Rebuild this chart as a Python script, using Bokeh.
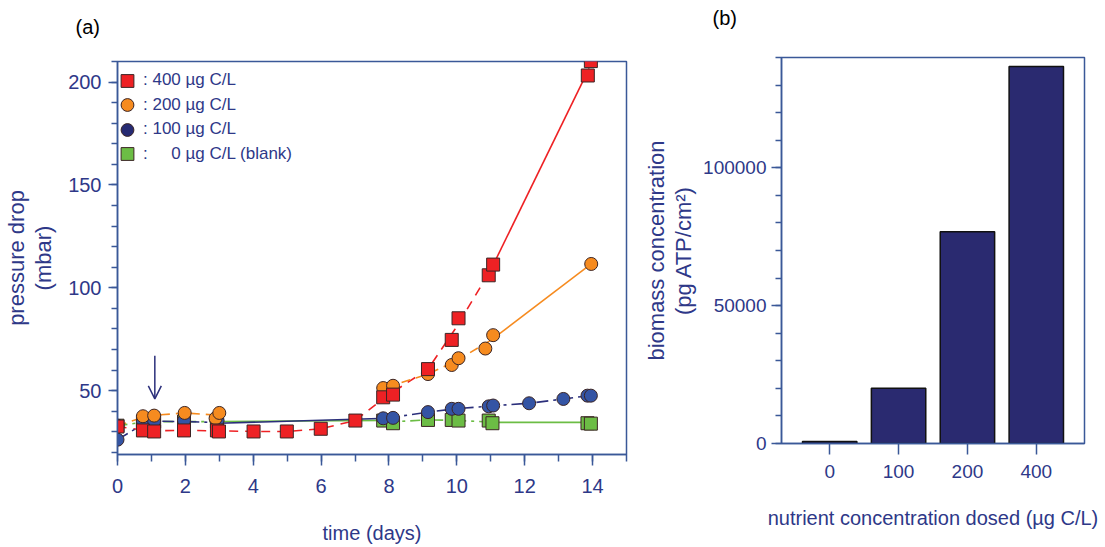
from bokeh.plotting import figure
from bokeh.layouts import row
from bokeh.models import (Range1d, FactorRange, SingleIntervalTicker, BasicTickFormatter,
                          Legend, LegendItem, Arrow, OpenHead)
from bokeh.embed import file_html
from bokeh.resources import INLINE

# ---------------- data: panel (a) pressure drop (mbar) vs time (days) ----------------
red_day = [0, 0.75, 1.08, 1.96, 2.93, 2.99, 4.01, 4.99, 5.99, 7.01, 7.83, 8.12, 9.15, 9.85, 10.05, 10.94, 11.07, 13.86, 13.95]
red_dp = [32.6, 30.7, 30.2, 30.7, 30.7, 30.2, 30.2, 30.2, 31.5, 35.5, 46.8, 48.1, 60.5, 74.7, 85.2, 106.1, 111.3, 203.2, 210.2]

orange_day = [0, 0.75, 1.08, 1.98, 2.89, 3.0, 7.83, 8.12, 9.15, 9.85, 10.05, 10.84, 11.07, 13.96]
orange_dp = [33.0, 37.6, 37.9, 39.2, 36.6, 39.2, 51.3, 52.4, 58.1, 62.5, 65.8, 70.5, 77.0, 111.6]

blue_day = [0, 0.75, 1.08, 1.96, 2.95, 7.83, 8.12, 9.15, 9.85, 10.05, 10.94, 11.07, 12.13, 13.14, 13.85, 13.95]
blue_dp = [26.2, 35.2, 35.2, 35.5, 35.5, 36.6, 36.8, 39.6, 41.2, 41.2, 42.4, 42.8, 43.9, 46.0, 47.6, 47.6]

green_day = [0, 0.75, 1.08, 1.96, 2.93, 7.83, 8.12, 9.15, 9.85, 10.05, 10.94, 11.05, 13.85, 13.95]
green_dp = [33.0, 35.0, 35.0, 35.0, 35.0, 35.5, 34.2, 35.8, 35.8, 35.5, 35.5, 34.2, 34.2, 34.0]

# connecting lines
red_dash_day = [0, 0.9, 2, 3, 4, 5, 6, 7, 7.95, 9.15, 9.95, 11.0]
red_dash_dp = [32.6, 30.5, 30.7, 30.5, 30.2, 30.2, 31.5, 35.5, 47.5, 60.5, 80.0, 108.7]
red_solid_day = [11.0, 13.9]
red_solid_dp = [108.7, 206.7]

orange_dash1_day = [0, 0.9, 2, 3]
orange_dash1_dp = [33.0, 37.8, 39.2, 38.0]
orange_dash2_day = [7.95, 9.15, 9.95, 11.0]
orange_dash2_dp = [51.8, 58.1, 64.2, 74.5]
orange_solid_day = [11.0, 13.96]
orange_solid_dp = [74.5, 111.6]

blue_dash1_day = [0, 0.9, 2, 3]
blue_dash1_dp = [26.2, 35.2, 35.0, 34.5]
blue_solid_day = [3, 7.95]
blue_solid_dp = [34.2, 36.6]
blue_dash2_day = [7.95, 9.15, 9.95, 11.0, 12.13, 13.14, 13.9]
blue_dash2_dp = [36.7, 39.6, 41.2, 42.6, 43.9, 46.0, 47.6]

green_dash1_day = [0, 0.9, 2, 3]
green_dash1_dp = [33.0, 35.0, 35.0, 35.0]
green_solid1_day = [3, 7.95]
green_solid1_dp = [35.0, 35.6]
green_dash2_day = [7.95, 9.15, 9.95, 11.0]
green_dash2_dp = [34.8, 35.8, 35.6, 34.8]
green_solid2_day = [11.0, 13.9]
green_solid2_dp = [34.6, 34.6]

legend_labels = [": 400 \u00b5g C/L", ": 200 \u00b5g C/L", ": 100 \u00b5g C/L",
                 ":\u2007\u2007 0 \u00b5g C/L (blank)"]

# nutrient dosing start marker
arrow_day = 1.1
arrow_from = 67.0
arrow_to = 46.0

# ---------------- data: panel (b) biomass ----------------
conc_labels = ["0", "100", "200", "400"]
biomass = [700, 20000, 76800, 136700]

# ---------------- styles ----------------
AX = "#3a5898"
TXT = "#2e3888"
FONT = "Liberation Sans"
RED = "#ee2124"
ORANGE = "#f68b1f"
BLUE = "#3454a4"
NAVY = "#2b2f7b"
GREEN = "#6cbd45"
EDGE = "#3b2525"
NAN = float("nan")

# the row aligns the border sizes of both plots; shared borders, shifted with margins
TOP = 80
BOTTOM = 93
P1_FRAME_H = 394
P2_FRAME_H = 387


def style_axis(ax, tick_out=10, minor_out=6, tick_size="20px"):
    ax.axis_line_color = AX
    ax.axis_line_width = 1.5
    ax.major_tick_line_color = AX
    ax.major_tick_line_width = 1.5
    ax.minor_tick_line_color = AX
    ax.minor_tick_line_width = 1.5
    ax.major_tick_in = 0
    ax.major_tick_out = tick_out
    ax.minor_tick_in = 0
    ax.minor_tick_out = minor_out
    ax.major_label_text_font = FONT
    ax.major_label_text_font_size = tick_size
    ax.major_label_text_color = TXT
    ax.axis_label_text_font = FONT
    ax.axis_label_text_font_style = "normal"
    ax.axis_label_text_color = TXT
    ax.axis_label_text_line_height = 1.1


# ---------------- panel (a) ----------------
p1 = figure(width=640, height=TOP + P1_FRAME_H + BOTTOM, margin=(60 - TOP, 0, 0, 0),
            x_range=Range1d(0, 15), y_range=Range1d(19, 210),
            min_border_left=114, min_border_right=14, min_border_top=TOP, min_border_bottom=BOTTOM,
            output_backend="svg", toolbar_location=None, title="(a)")
p1.title.text_font = FONT
p1.title.text_font_size = "20px"
p1.title.text_font_style = "normal"
p1.title.text_color = "black"
p1.title.align = "left"
p1.title.offset = -42
p1.title.standoff = 47
p1.xgrid.visible = False
p1.ygrid.visible = False
p1.outline_line_color = AX
p1.outline_line_width = 1.5

p1.xaxis.ticker = SingleIntervalTicker(interval=2, num_minor_ticks=2)
p1.yaxis.ticker = SingleIntervalTicker(interval=50, num_minor_ticks=5)
p1.xaxis.axis_label = "time (days)"
p1.yaxis.axis_label = "pressure drop\n(mbar)"
style_axis(p1.xaxis[0], 11, 7)
style_axis(p1.yaxis[0], 9, 6)
p1.xaxis.axis_label_text_font_size = "20px"
p1.yaxis.axis_label_text_font_size = "22px"
p1.xaxis.major_label_standoff = 13
p1.xaxis.axis_label_standoff = 26
p1.yaxis.major_label_standoff = 7
p1.yaxis.axis_label_standoff = 9

# lines
p1.line(red_dash_day, red_dash_dp, line_color=RED, line_width=1.6, line_dash="9 7")
p1.line(red_solid_day, red_solid_dp, line_color=RED, line_width=1.6)
p1.line(orange_dash1_day, orange_dash1_dp, line_color=ORANGE, line_width=1.6, line_dash="9 6")
p1.line(orange_dash2_day, orange_dash2_dp, line_color=ORANGE, line_width=1.6, line_dash="9 6")
p1.line(orange_solid_day, orange_solid_dp, line_color=ORANGE, line_width=1.6)
p1.line(green_dash1_day, green_dash1_dp, line_color=GREEN, line_width=1.6, line_dash="10 5 3 5")
p1.line(green_solid1_day, green_solid1_dp, line_color=GREEN, line_width=1.6)
p1.line(green_dash2_day, green_dash2_dp, line_color=GREEN, line_width=1.6, line_dash="10 5 3 5")
p1.line(green_solid2_day, green_solid2_dp, line_color=GREEN, line_width=1.6)
p1.line(blue_dash1_day, blue_dash1_dp, line_color=NAVY, line_width=1.6, line_dash="12 5 3 5")
p1.line(blue_solid_day, blue_solid_dp, line_color=NAVY, line_width=1.6)
p1.line(blue_dash2_day, blue_dash2_dp, line_color=NAVY, line_width=1.6, line_dash="12 5 3 5")

# markers
r_green = p1.scatter(green_day, green_dp, marker="square", size=13, fill_color=GREEN,
                     line_color=EDGE, line_width=1)
r_blue = p1.scatter(blue_day, blue_dp, marker="circle", size=13, fill_color=BLUE,
                    line_color=EDGE, line_width=1)
r_orange = p1.scatter(orange_day, orange_dp, marker="circle", size=13, fill_color=ORANGE,
                      line_color=EDGE, line_width=1)
r_red = p1.scatter(red_day, red_dp, marker="square", size=13, fill_color=RED,
                   line_color=EDGE, line_width=1)

# legend swatches (no visible data point; darker navy for 100 ug in the legend)
lg_red = p1.scatter([NAN], [NAN], marker="square", fill_color=RED, line_color=EDGE)
lg_orange = p1.scatter([NAN], [NAN], marker="circle", fill_color=ORANGE, line_color=EDGE)
lg_blue = p1.scatter([NAN], [NAN], marker="circle", fill_color="#262a72", line_color=EDGE)
lg_green = p1.scatter([NAN], [NAN], marker="square", fill_color=GREEN, line_color=EDGE)

for k, (lab, rend) in enumerate(zip(legend_labels, [lg_red, lg_orange, lg_blue, lg_green])):
    lg = Legend(items=[LegendItem(label=lab, renderers=[rend])],
                location=(-6, P1_FRAME_H - 36.5 - 24.5 * k), glyph_width=32, glyph_height=33,
                spacing=0, padding=0, margin=0, label_standoff=0, label_height=20,
                border_line_alpha=0, background_fill_alpha=0,
                label_text_font=FONT, label_text_font_size="17px", label_text_color=TXT)
    p1.add_layout(lg)

p1.add_layout(Arrow(end=OpenHead(size=13, line_color=NAVY, line_width=1.5),
                    x_start=arrow_day, y_start=arrow_from, x_end=arrow_day, y_end=arrow_to,
                    line_color=NAVY, line_width=1.5))

# ---------------- panel (b) ----------------
p2 = figure(width=465, height=TOP + P2_FRAME_H + BOTTOM, margin=(56 - TOP, 0, 0, 0),
            x_range=FactorRange(factors=conc_labels, range_padding=0.1),
            y_range=Range1d(0, 140000),
            min_border_left=137, min_border_right=21, min_border_top=TOP, min_border_bottom=BOTTOM,
            output_backend="svg", toolbar_location=None, title="(b)")
p2.title.text_font = FONT
p2.title.text_font_size = "20px"
p2.title.text_font_style = "normal"
p2.title.text_color = "black"
p2.title.align = "left"
p2.title.offset = -69
p2.title.standoff = 57
p2.xgrid.visible = False
p2.ygrid.visible = False
p2.outline_line_color = AX
p2.outline_line_width = 1.5

p2.vbar(x=conc_labels, top=biomass, width=0.79, fill_color="#2a2a70", line_color="#111111",
        line_width=1.5)

p2.yaxis.ticker = SingleIntervalTicker(interval=50000, num_minor_ticks=5)
p2.yaxis.formatter = BasicTickFormatter(use_scientific=False)
p2.xaxis.axis_label = "nutrient concentration dosed (\u00b5g C/L)"
p2.yaxis.axis_label = "biomass concentration\n(pg ATP/cm\u00b2)"
style_axis(p2.xaxis[0], 11, 0, "19px")
style_axis(p2.yaxis[0], 10, 6, "19px")
p2.xaxis.axis_label_text_font_size = "20px"
p2.yaxis.axis_label_text_font_size = "22px"
p2.xaxis.major_label_standoff = 10
p2.xaxis.axis_label_standoff = 26
p2.yaxis.major_label_standoff = 5
p2.yaxis.axis_label_standoff = 4

layout = row(p1, p2)
open("out.html", "w").write(file_html(layout, INLINE))
